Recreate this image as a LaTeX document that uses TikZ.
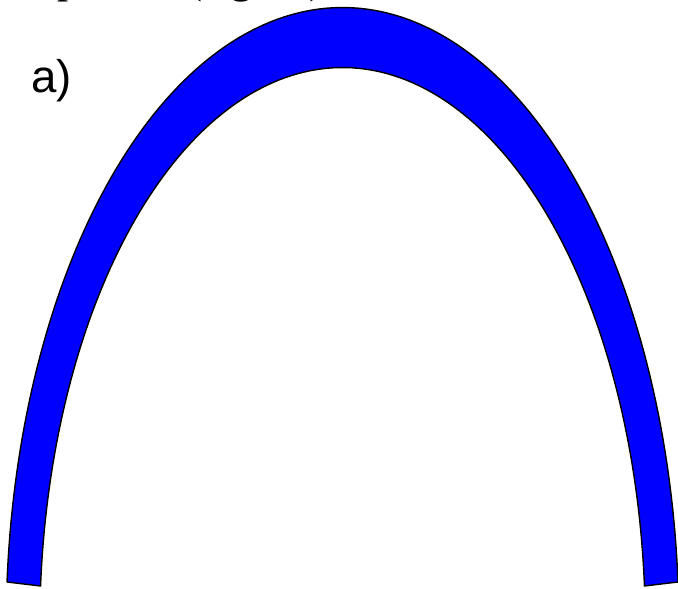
\documentclass[tikz,border=0pt]{standalone}
\usepackage{fontspec}
\setmainfont{Liberation Serif}
\setsansfont{Liberation Sans}
\begin{document}
\begin{tikzpicture}[x=0.02cm,y=-0.02cm,
    arch/.style={fill=blue,draw=black,line width=0.8pt,line join=round},
    panel/.style={font=\sffamily\fontsize{26}{30}\selectfont,inner sep=0pt,anchor=base west},
    runtext/.style={font=\fontsize{25.5}{30}\selectfont,inner sep=0pt,anchor=base west}]
  \useasboundingbox (0,0) rectangle (678,588);
  \clip (0,0) rectangle (678,588);
  % running text line above the figure, only its descenders show
  \node[runtext] (txt) at (57,-7) {profile (figure)};
  \node[panel] (lbl) at (31,92) {a)};
  % arch band: outer half-ellipse left to right, inner one back
  \draw[arch] plot[domain=175.79:4.21,samples=150]
      ({342.5+336.4*cos(\x)},{627.5-620*sin(\x)})
    -- plot[domain=4.25:175.75,samples=150]
      ({342.5+302.8*cos(\x)},{627.5-560*sin(\x)})
    -- cycle;
\end{tikzpicture}
\end{document}
